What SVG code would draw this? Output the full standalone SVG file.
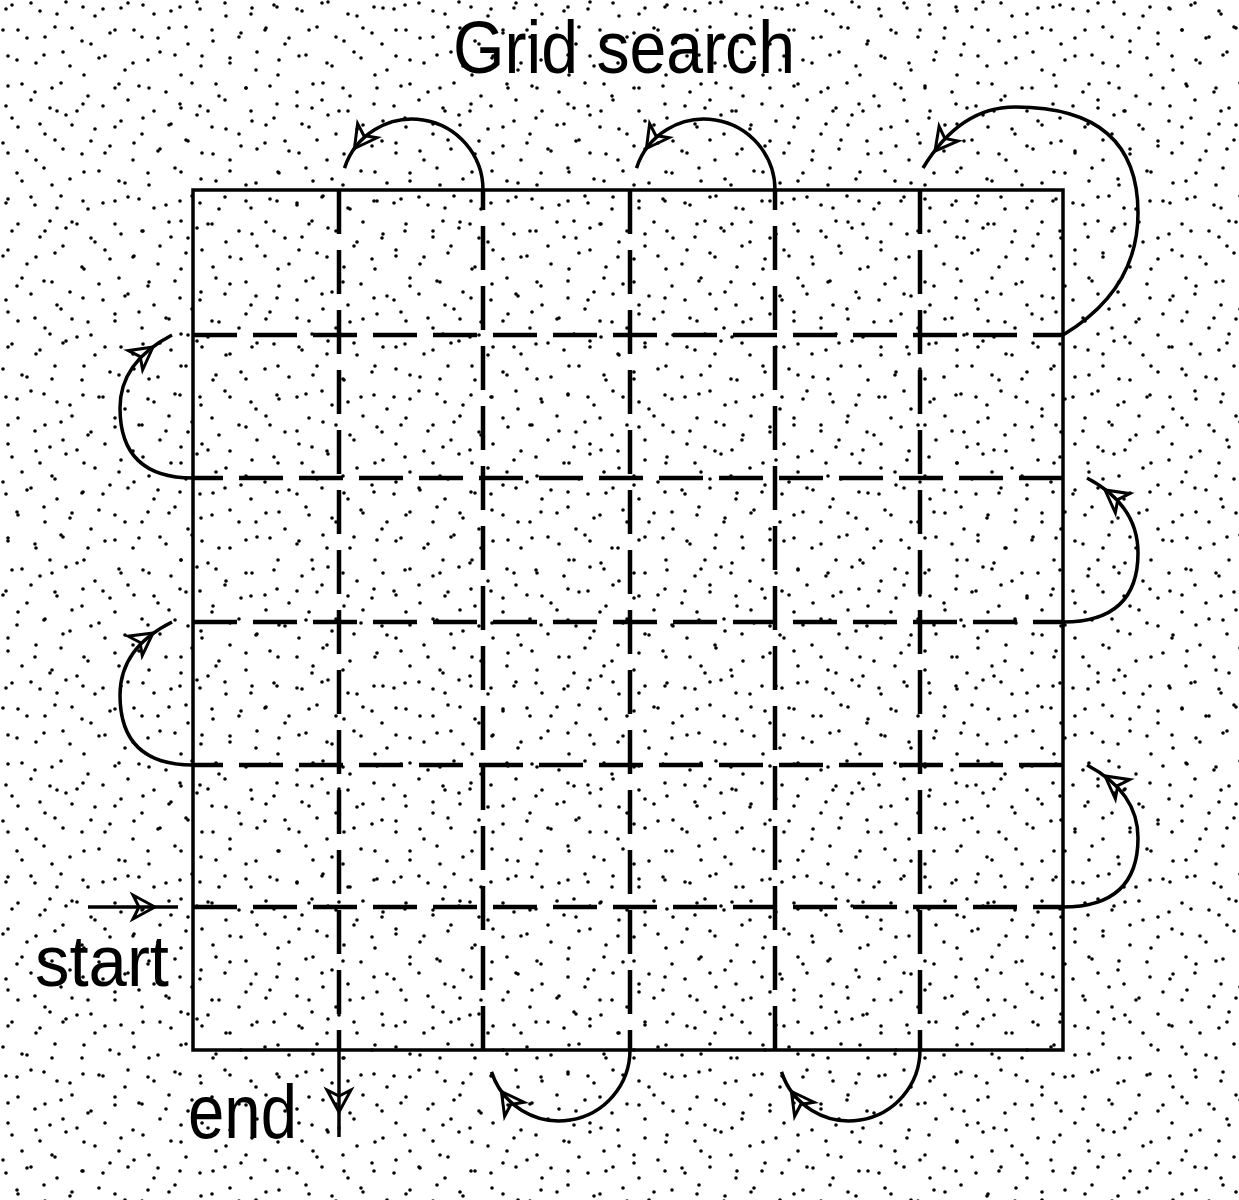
<svg xmlns="http://www.w3.org/2000/svg" xmlns:xlink="http://www.w3.org/1999/xlink" width="1239" height="1200" viewBox="0 0 1239 1200">
<style>
.dash{fill:none;stroke:#000;stroke-width:4.5;stroke-dasharray:44 16}
.arc{fill:none;stroke:#000;stroke-width:3.5}
.lbl{font-family:"Liberation Sans Narrow","Liberation Sans",Arial,sans-serif;fill:#000}
.dot{fill:#000}
</style>
<defs>
<pattern id="dotsA" width="97" height="97" patternUnits="userSpaceOnUse">
<g class="dot">
<circle cx="6" cy="9" r="1.8"/><circle cx="31" cy="3" r="1.8"/><circle cx="57" cy="14" r="1.8"/><circle cx="83" cy="7" r="1.8"/>
<circle cx="18" cy="30" r="1.8"/><circle cx="45" cy="37" r="1.8"/><circle cx="72" cy="28" r="1.8"/><circle cx="91" cy="44" r="1.8"/>
<circle cx="8" cy="56" r="1.8"/><circle cx="36" cy="63" r="1.8"/><circle cx="63" cy="52" r="1.8"/><circle cx="84" cy="75" r="1.8"/>
<circle cx="22" cy="84" r="1.8"/><circle cx="52" cy="88" r="1.8"/>
</g>
</pattern>
<pattern id="dotsB" width="131" height="113" patternUnits="userSpaceOnUse">
<g class="dot">
<circle cx="12" cy="5" r="1.8"/><circle cx="40" cy="11" r="1.8"/><circle cx="66" cy="2" r="1.8"/><circle cx="95" cy="16" r="1.8"/><circle cx="121" cy="8" r="1.8"/>
<circle cx="3" cy="30" r="1.8"/><circle cx="27" cy="38" r="1.8"/><circle cx="55" cy="27" r="1.8"/><circle cx="82" cy="41" r="1.8"/><circle cx="110" cy="33" r="1.8"/>
<circle cx="17" cy="60" r="1.8"/><circle cx="44" cy="55" r="1.8"/><circle cx="70" cy="66" r="1.8"/><circle cx="99" cy="58" r="1.8"/><circle cx="125" cy="70" r="1.8"/>
<circle cx="8" cy="86" r="1.8"/><circle cx="35" cy="92" r="1.8"/><circle cx="61" cy="83" r="1.8"/><circle cx="88" cy="96" r="1.8"/><circle cx="115" cy="88" r="1.8"/>
<circle cx="50" cy="108" r="1.8"/><circle cx="77" cy="111" r="1.8"/>
</g>
</pattern>
<path id="ah" d="M0,0 L-22,-12 L-16,0 L-22,12 Z" fill="none" stroke="#000" stroke-width="3"/>
</defs>
<rect width="1239" height="1200" fill="#fff"/>
<rect width="1239" height="1200" fill="url(#dotsA)"/>
<rect width="1239" height="1200" fill="url(#dotsB)"/>

<g id="title"><text class="lbl" x="453" y="73" font-size="74" textLength="342" lengthAdjust="spacingAndGlyphs">Grid search</text></g>

<g id="grid"><rect x="193" y="190" width="870" height="860" fill="none" stroke="#000" stroke-width="3.5"/></g>

<g id="connectors">
<path class="arc" d="M88,907 H178"/>
<path class="dash" d="M193,907 H1063"/>
<path class="arc" d="M1063,907 Q1138,907 1138,838 Q1138,792 1087,765"/>
<path class="dash" d="M1063,765 H193"/>
<path class="arc" d="M193,765 Q120,765 120,695 Q120,648 172,622"/>
<path class="dash" d="M193,622 H1063"/>
<path class="arc" d="M1063,622 Q1138,622 1138,553 Q1138,505 1087,478"/>
<path class="dash" d="M1063,478 H193"/>
<path class="arc" d="M193,478 Q120,478 120,408 Q120,362 172,335"/>
<path class="dash" d="M193,335 H1063"/>
<path class="arc" d="M1063,335 Q1138,290 1138,213 Q1138,107 1015,107 Q960,107 923,168"/>
<path class="dash" d="M920,190 V1050"/>
<path class="arc" d="M920,1050 A71,71 0 0 1 781.5,1071.9"/>
<path class="dash" d="M775,1050 V190"/>
<path class="arc" d="M775,190 A71,71 0 0 0 636.5,168.1"/>
<path class="dash" d="M630,190 V1050"/>
<path class="arc" d="M630,1050 A71,71 0 0 1 491.5,1071.9"/>
<path class="dash" d="M483,1050 V190"/>
<path class="arc" d="M483,190 A71,71 0 0 0 344.5,168.1"/>
<path class="dash" d="M339,190 V1050"/>
<path class="arc" d="M339,1050 V1137"/>
<use xlink:href="#ah" transform="translate(155,907)"/>
<use xlink:href="#ah" transform="translate(1105,776) rotate(-143)"/>
<use xlink:href="#ah" transform="translate(153,633) rotate(-36)"/>
<use xlink:href="#ah" transform="translate(1105,490) rotate(-143)"/>
<use xlink:href="#ah" transform="translate(153,347) rotate(-37)"/>
<use xlink:href="#ah" transform="translate(935,151) rotate(128)"/>
<use xlink:href="#ah" transform="translate(791.4,1091.5) rotate(-126)"/>
<use xlink:href="#ah" transform="translate(646.4,148.5) rotate(126)"/>
<use xlink:href="#ah" transform="translate(501.4,1091.5) rotate(-126)"/>
<use xlink:href="#ah" transform="translate(354.4,148.5) rotate(126)"/>
<use xlink:href="#ah" transform="translate(339,1112) rotate(90)"/>
</g>

<g id="start-label"><text class="lbl" x="35" y="986" font-size="72" textLength="134" lengthAdjust="spacingAndGlyphs">start</text></g>
<g id="end-label"><text class="lbl" x="188" y="1138" font-size="76" textLength="109" lengthAdjust="spacingAndGlyphs">end</text></g>
</svg>
